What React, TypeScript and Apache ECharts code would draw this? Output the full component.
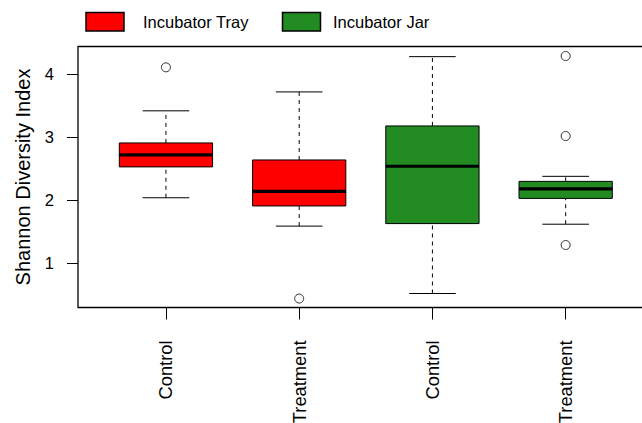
import React, { useEffect, useRef } from "react";
import * as echarts from "echarts";

// ---- data ----
const groupLabels = ["Control", "Treatment", "Control", "Treatment"];
const groupIncubator = [0, 0, 1, 1];
const incubatorNames = ["Incubator Tray", "Incubator Jar"];
const incubatorColors = ["#FF0000", "#228B22"];

const lowerWhisker = [2.04, 1.59, 0.52, 1.62];
const q1 = [2.53, 1.91, 1.63, 2.03];
const median = [2.72, 2.14, 2.54, 2.18];
const q3 = [2.91, 2.64, 3.18, 2.3];
const upperWhisker = [3.42, 3.72, 4.28, 2.38];

const outlierGroup = [1, 2, 4, 4, 4];
const outlierValue = [4.11, 0.44, 4.29, 3.02, 1.29];

const yTicks = [1, 2, 3, 4];
const xTicks = [1, 2, 3, 4];

const FONT = "'Liberation Sans', Arial, Helvetica, sans-serif";

export default function App() {
  const ref = useRef<HTMLDivElement>(null);

  useEffect(() => {
    if (!ref.current) return;
    const chart = echarts.init(ref.current, null, { renderer: "svg" });

    const boxData = groupLabels.map((_, i) => [
      i + 1,
      lowerWhisker[i],
      q1[i],
      median[i],
      q3[i],
      upperWhisker[i],
    ]);
    const outlierData = outlierGroup.map((g, i) => [g, outlierValue[i]]);

    const halfBox = 0.35;
    const halfCap = 0.175;

    const renderItem = (params: any, api: any) => {
      const x = api.value(0);
      const lo = api.value(1);
      const a = api.value(2);
      const m = api.value(3);
      const b = api.value(4);
      const hi = api.value(5);
      const color = incubatorColors[groupIncubator[params.dataIndex]];
      const pLo = api.coord([x, lo]);
      const pA = api.coord([x, a]);
      const pM = api.coord([x, m]);
      const pB = api.coord([x, b]);
      const pHi = api.coord([x, hi]);
      const xl = api.coord([x - halfBox, m])[0];
      const xr = api.coord([x + halfBox, m])[0];
      const cl = api.coord([x - halfCap, m])[0];
      const cr = api.coord([x + halfCap, m])[0];
      const whisk = { stroke: "#000", lineWidth: 1, lineDash: [4, 4] };
      const solid = { stroke: "#000", lineWidth: 1 };
      return {
        type: "group",
        children: [
          { type: "line", shape: { x1: pB[0], y1: pB[1], x2: pHi[0], y2: pHi[1] }, style: whisk },
          { type: "line", shape: { x1: pLo[0], y1: pLo[1], x2: pA[0], y2: pA[1] }, style: whisk },
          { type: "line", shape: { x1: cl, y1: pHi[1], x2: cr, y2: pHi[1] }, style: solid },
          { type: "line", shape: { x1: cl, y1: pLo[1], x2: cr, y2: pLo[1] }, style: solid },
          {
            type: "rect",
            shape: { x: xl, y: pB[1], width: xr - xl, height: pA[1] - pB[1] },
            style: { fill: color, stroke: "#000", lineWidth: 1 },
          },
          {
            type: "line",
            shape: { x1: xl, y1: pM[1], x2: xr, y2: pM[1] },
            style: { stroke: "#000", lineWidth: 3.2 },
          },
        ],
      };
    };

    const option: any = {
      animation: false,
      backgroundColor: "#fff",
      textStyle: { fontFamily: FONT },
      grid: {
        left: 78,
        top: 46.5,
        right: 0.4,
        bottom: 115.5,
        outerBoundsMode: "none",
        containLabel: false,
        show: true,
        borderColor: "#000",
        borderWidth: 1.3,
        backgroundColor: "transparent",
      },
      xAxis: {
        type: "value",
        min: 0.34,
        max: 4.66,
        axisLine: { show: false },
        splitLine: { show: false },
        axisTick: {
          show: true,
          customValues: xTicks,
          length: 12,
          lineStyle: { color: "#000", width: 1 },
        },
        axisLabel: {
          customValues: xTicks,
          rotate: 90,
          margin: 33,
          fontSize: 18.3,
          color: "#000",
          fontFamily: FONT,
          formatter: (v: number) => groupLabels[Math.round(v) - 1] ?? "",
        },
      },
      yAxis: {
        type: "value",
        min: 0.298,
        max: 4.441,
        axisLine: { show: false },
        splitLine: { show: false },
        axisTick: {
          show: true,
          customValues: yTicks,
          length: 11,
          lineStyle: { color: "#000", width: 1 },
        },
        axisLabel: {
          customValues: yTicks,
          margin: 24,
          fontSize: 16.5,
          color: "#000",
          fontFamily: FONT,
        },
        name: "Shannon Diversity Index",
        nameLocation: "middle",
        nameGap: 45,
        nameTextStyle: { fontSize: 20, color: "#000", fontFamily: FONT },
      },
      graphic: [
        {
          type: "rect",
          shape: { x: 86, y: 12.5, width: 38, height: 18.5 },
          style: { fill: incubatorColors[0], stroke: "#000", lineWidth: 1.5 },
        },
        {
          type: "text",
          x: 143,
          y: 22,
          style: {
            text: incubatorNames[0],
            fontSize: 16.5,
            fontFamily: FONT,
            fill: "#000",
            verticalAlign: "middle",
          },
        },
        {
          type: "rect",
          shape: { x: 282.5, y: 12.5, width: 38, height: 18.5 },
          style: { fill: incubatorColors[1], stroke: "#000", lineWidth: 1.5 },
        },
        {
          type: "text",
          x: 333,
          y: 22,
          style: {
            text: incubatorNames[1],
            fontSize: 16.5,
            fontFamily: FONT,
            fill: "#000",
            verticalAlign: "middle",
          },
        },
      ],
      series: [
        {
          type: "custom",
          name: "boxes",
          renderItem,
          data: boxData,
          encode: { x: 0, y: [1, 2, 3, 4, 5] },
          clip: false,
        },
        {
          type: "scatter",
          name: "outliers",
          data: outlierData,
          symbol: "circle",
          symbolSize: 9,
          itemStyle: { color: "none", borderColor: "#000", borderWidth: 1 },
        },
      ],
    };

    chart.setOption(option);
    return () => chart.dispose();
  }, []);

  return (
    <div
      style={{
        position: "fixed",
        left: 0,
        top: 0,
        width: 642,
        height: 423,
        overflow: "hidden",
        background: "#fff",
      }}
    >
      <div ref={ref} style={{ width: 654, height: 423 }} />
    </div>
  );
}
